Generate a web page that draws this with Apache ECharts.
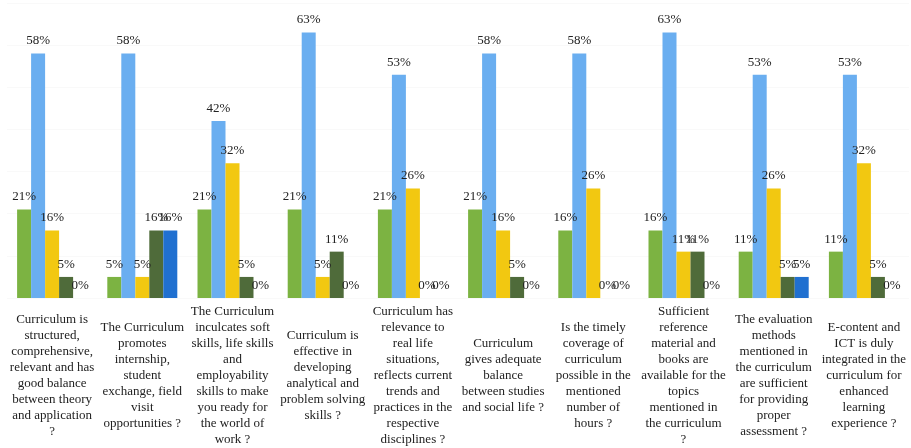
<!DOCTYPE html>
<html>
<head>
<meta charset="utf-8">
<script src="https://cdn.jsdelivr.net/npm/echarts@6/dist/echarts.min.js"></script>
<style>html,body{margin:0;padding:0;background:#fff;}#c{width:911px;height:448px;}</style>
</head>
<body>
<div id="c"></div>
<script>
var categories = [
  "Curriculum is\nstructured,\ncomprehensive,\nrelevant and has\ngood balance\nbetween theory\nand application\n?",
  "The Curriculum\npromotes\ninternship,\nstudent\nexchange, field\nvisit\nopportunities ?",
  "The Curriculum\ninculcates soft\nskills, life skills\nand\nemployability\nskills to make\nyou ready for\nthe world of\nwork ?",
  "Curriculum is\neffective in\ndeveloping\nanalytical and\nproblem solving\nskills ?",
  "Curriculum has\nrelevance to\nreal life\nsituations,\nreflects current\ntrends and\npractices in the\nrespective\ndisciplines ?",
  "Curriculum\ngives adequate\nbalance\nbetween studies\nand social life ?",
  "Is the timely\ncoverage of\ncurriculum\npossible in the\nmentioned\nnumber of\nhours ?",
  "Sufficient\nreference\nmaterial and\nbooks are\navailable for the\ntopics\nmentioned in\nthe curriculum\n?",
  "The evaluation\nmethods\nmentioned in\nthe curriculum\nare sufficient\nfor providing\nproper\nassessment ?",
  "E-content and\nICT is duly\nintegrated in the\ncurriculum for\nenhanced\nlearning\nexperience ?"
];
var seriesNames = ["Series 1", "Series 2", "Series 3", "Series 4", "Series 5"];
var s1 = [21, 5, 21, 21, 21, 21, 16, 16, 11, 11];
var s2 = [58, 58, 42, 63, 53, 58, 58, 63, 53, 53];
var s3 = [16, 5, 32, 5, 26, 16, 26, 11, 26, 32];
var s4 = [5, 16, 5, 11, 0, 5, 0, 11, 5, 5];
var s5 = [0, 16, 0, 0, 0, 0, 0, 0, 5, 0];
var colors = ["#7cb342", "#6aaef0", "#f2c811", "#4f6b3a", "#2070d0"];

var allData = [s1, s2, s3, s4, s5];
var series = allData.map(function (d, i) {
  return {
    name: seriesNames[i],
    type: 'bar',
    data: d,
    barWidth: 14,
    barGap: '0%',
    itemStyle: { color: colors[i] },
    label: {
      show: true,
      position: 'top',
      distance: 6,
      formatter: '{c}%',
      fontFamily: 'Liberation Serif',
      fontSize: 13,
      color: '#222'
    }
  };
});

var chart = echarts.init(document.getElementById('c'));
chart.setOption({
  backgroundColor: '#fff',
  animation: false,
  grid: { left: 7, right: 2, top: 3, bottom: 148, containLabel: false },
  xAxis: {
    type: 'category',
    data: categories,
    axisLine: { show: false },
    axisTick: { show: false },
    axisLabel: {
      interval: 0,
      margin: 78,
      verticalAlign: 'middle',
      fontFamily: 'Liberation Serif',
      fontSize: 13,
      lineHeight: 16,
      color: '#222',
      align: 'center'
    }
  },
  yAxis: {
    type: 'value',
    min: 0,
    max: 70,
    interval: 10,
    axisLabel: { show: false },
    axisLine: { show: false },
    axisTick: { show: false },
    splitLine: { show: true, lineStyle: { color: '#f9f9f9', width: 1 } }
  },
  series: series
});
</script>
</body>
</html>
